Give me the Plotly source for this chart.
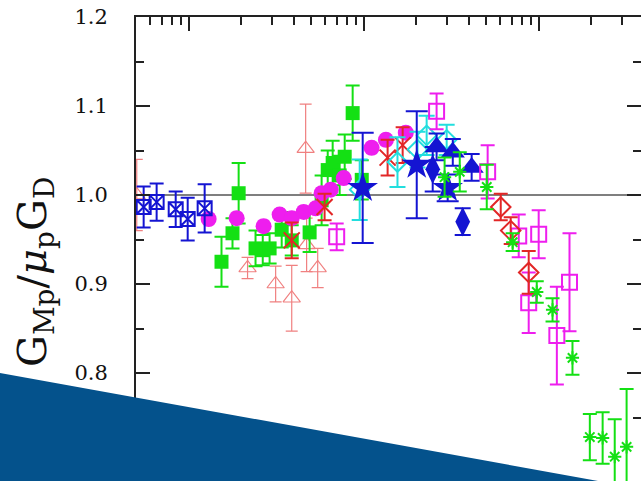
import plotly.graph_objects as go
import math

# ---------------- data (Q^2 in GeV^2, ratio G_Mp / mu_p G_D) ----------------
bxs_q2 = [0.0553, 0.0656, 0.0843, 0.0987, 0.1234]
bxs_r = [0.9865, 0.992, 0.984, 0.973, 0.985]
bxs_e = [0.023, 0.021, 0.020, 0.024, 0.027]

tri_q2 = [0.0505, 0.217, 0.314, 0.388, 0.466, 0.472, 0.546]
tri_r = [1.000, 0.918, 0.900, 0.884, 1.052, 0.944, 0.918]
tri_e = [0.040, 0.012, 0.020, 0.037, 0.050, 0.030, 0.022]

gsq_q2 = [0.154, 0.178, 0.193, 0.241, 0.265, 0.290, 0.340, 0.388, 0.491, 0.575,
          0.623, 0.665, 0.729, 0.779, 0.865, 0.975]
gsq_r = [0.925, 0.957, 1.002, 0.940, 0.938, 0.940, 0.961, 0.949, 0.958, 0.994,
         1.028, 1.036, 1.022, 1.043, 1.092, 1.017]
gsq_e = [0.028, 0.017, 0.034, 0.020, 0.017, 0.017, 0.020, 0.017, 0.022, 0.028,
         0.022, 0.025, 0.022, 0.025, 0.031, 0.022]

mci_q2 = [0.130, 0.188, 0.268, 0.331, 0.388, 0.454, 0.532, 0.575, 0.648, 0.769,
          1.11, 1.34, 1.74]
mci_r = [0.973, 0.974, 0.965, 0.978, 0.974, 0.981, 0.985, 1.002, 1.006, 1.019,
         1.053, 1.062, 1.070]
mci_e = [0.006] * 13

rx_q2 = [0.388, 0.598, 1.37, 1.67]
rx_r = [0.949, 0.9865, 1.042, 1.056]
rx_e = [0.020, 0.015, 0.020, 0.020]

cyd_q2 = [0.949, 1.56, 2.03, 2.29, 2.98]
cyd_r = [1.006, 1.037, 1.051, 1.067, 1.062]
cyd_e = [0.034, 0.028, 0.020, 0.022, 0.017]

bst_q2 = [0.987, 2.01, 3.02]
bst_r = [1.008, 1.034, 1.008]
bst_e = [0.062, 0.060, 0.015]

bdi_q2 = [2.48, 3.68]
bdi_r = [1.029, 0.970]
bdi_e = [0.025, 0.015]

btr_q2 = [2.61, 3.23, 4.14]
btr_r = [1.054, 1.048, 1.031]
btr_e = [0.015, 0.015, 0.015]

msq_q2 = [0.701, 2.61, 5.11, 7.69, 10.0, 8.77, 12.7, 15.0]
msq_r = [0.953, 1.094, 1.026, 0.954, 0.956, 0.879, 0.842, 0.902]
msq_e = [0.015, 0.020, 0.030, 0.024, 0.027, 0.034, 0.055, 0.055]

rdi_q2 = [6.07, 6.92, 8.77]
rdi_r = [0.9865, 0.960, 0.913]
rdi_e = [0.015, 0.015, 0.024]

gas_q2 = [2.90, 3.54, 5.05, 7.10, 9.75, 12.0, 15.6, 19.6, 23.2, 27.2, 31.8]
gas_r = [1.020, 1.026, 1.009, 0.947, 0.891, 0.871, 0.817, 0.728, 0.727, 0.706, 0.717]
gas_e = [0.022, 0.022, 0.025, 0.010, 0.012, 0.013, 0.019, 0.026, 0.029, 0.042, 0.065]

y_ticks = [0.8, 0.9, 1.0, 1.1, 1.2]
y_tick_text = ["0.8", "0.9", "1.0", "1.1", "1.2"]
x_major = [0.1, 1, 10]
x_minor = [0.05, 0.06, 0.07, 0.08, 0.09, 0.2, 0.3, 0.4, 0.5, 0.6, 0.7, 0.8, 0.9,
           2, 3, 4, 5, 6, 7, 8, 9, 20, 30]
y_minor = [0.75, 0.85, 0.95, 1.05, 1.15]

BLUE = "#1414d2"
MAG = "#ee1eee"
GREEN = "#14e014"
SALMON = "#f08080"
RED = "#e22626"
CYAN = "#22dede"

fig = go.Figure()


def add(x, y, e, color, symbol, size, lw=2, cap=7, ebw=2):
    marker = dict(symbol=symbol, size=size, color=color,
                  line=dict(color=color, width=lw))
    fig.add_trace(go.Scatter(
        x=x, y=y, mode="markers", marker=marker, showlegend=False,
        hoverinfo="skip",
        error_y=dict(type="data", array=e, visible=True, color=color,
                     thickness=ebw, width=cap)))


add(tri_q2, tri_r, tri_e, SALMON, "triangle-up-open", 15, lw=1.2, cap=6, ebw=1.2)
add(gsq_q2, gsq_r, gsq_e, GREEN, "square", 14, lw=0, cap=7)
add(mci_q2, mci_r, mci_e, MAG, "circle", 16, lw=0, cap=5)
add(rx_q2, rx_r, rx_e, RED, "x-thin-open", 16, lw=2, cap=7)
add(cyd_q2, cyd_r, cyd_e, CYAN, "diamond-open", 15, lw=2, cap=8)
add(bxs_q2, bxs_r, bxs_e, BLUE, "square-x-open", 14, lw=2, cap=7)
add(bst_q2, bst_r, bst_e, BLUE, "star", 23, lw=0, cap=11)
add(bdi_q2, bdi_r, bdi_e, BLUE, "diamond-tall", 21, lw=0, cap=8)
add(btr_q2, btr_r, btr_e, BLUE, "triangle-up", 21, lw=0, cap=8)
add(msq_q2, msq_r, msq_e, MAG, "square-open", 15, lw=2, cap=7)
add(rdi_q2, rdi_r, rdi_e, RED, "diamond-open", 15, lw=2, cap=7)
add(gas_q2, gas_r, gas_e, GREEN, "asterisk-open", 11, lw=2, cap=7)

# invisible trace to activate right-hand tick axis
fig.add_trace(go.Scatter(x=[1], y=[1], yaxis="y2", mode="markers",
                         marker=dict(opacity=0), showlegend=False,
                         hoverinfo="skip"))

W, H = 641, 481
L, T = 136, 17
plot_w = W - L
plot_h = H - T
px_per_dec = 175.0
px_per_unit = 890.0
x0 = math.log10(0.05)
x1 = x0 + plot_w / px_per_dec
y1 = 1.2
y0 = 1.2 - plot_h / px_per_unit

AX = "#222222"
tickfont = dict(family="DejaVu Serif", size=21, color="#111111")

fig.update_layout(
    width=W, height=H,
    margin=dict(l=L, r=0, t=T, b=0, pad=0),
    paper_bgcolor="white", plot_bgcolor="white",
    template=None,
    xaxis=dict(type="log", range=[x0, x1], side="top", showline=True,
               linecolor=AX, linewidth=2, ticks="inside", ticklen=14,
               tickwidth=2, tickcolor=AX, tickvals=x_major,
               showticklabels=False, showgrid=False, zeroline=False,
               automargin=False,
               minor=dict(tickvals=x_minor, ticks="inside", ticklen=8,
                          tickwidth=2, tickcolor=AX, showgrid=False)),
    yaxis=dict(range=[y0, y1], showline=True, linecolor=AX, linewidth=2,
               ticks="inside", ticklen=14, tickwidth=2, tickcolor=AX,
               tickvals=y_ticks, ticktext=y_tick_text, tickfont=tickfont,
               ticklabelstandoff=22, showgrid=False, zeroline=False,
               automargin=False,
               minor=dict(tickvals=y_minor, ticks="inside", ticklen=8,
                          tickwidth=2, tickcolor=AX, showgrid=False)),
    yaxis2=dict(range=[y0, y1], overlaying="y", side="right", showline=False,
                ticks="inside", ticklen=14, tickwidth=2, tickcolor=AX,
                tickvals=y_ticks, showticklabels=False, showgrid=False,
                zeroline=False, automargin=False,
                minor=dict(tickvals=y_minor, ticks="inside", ticklen=8,
                           tickwidth=2, tickcolor=AX, showgrid=False)),
)

# reference line at ratio = 1
fig.add_shape(type="line", xref="paper", yref="y", x0=0, x1=1, y0=1.0, y1=1.0,
              line=dict(color="#555555", width=1.5), layer="below")

# axis title
fig.add_annotation(
    xref="paper", yref="paper", x=(35 - L) / plot_w, y=(H - 272) / plot_h,
    text="G<sub>Mp</sub>/<i>μ</i><sub>p</sub>G<sub>D</sub>", textangle=-90,
    showarrow=False, xanchor="center", yanchor="middle",
    font=dict(family="DejaVu Serif", size=40, color="#111111"))


# dark blue diagonal band over the bottom-left
def px(x):
    return (x - L) / plot_w


def py(y):
    return (H - y) / plot_h


path = (f"M {px(0)},{py(373)} L {px(598)},{py(481)} L {px(598)},{py(495)} "
        f"L {px(0)},{py(495)} Z")
fig.add_shape(type="path", xref="paper", yref="paper", path=path,
              fillcolor="#04528c", line=dict(width=0), layer="above")

fig.write_html("out.html",
               config={"displayModeBar": False},
               post_script="document.body.style.margin='0';"
                           "document.body.style.overflow='hidden';")
